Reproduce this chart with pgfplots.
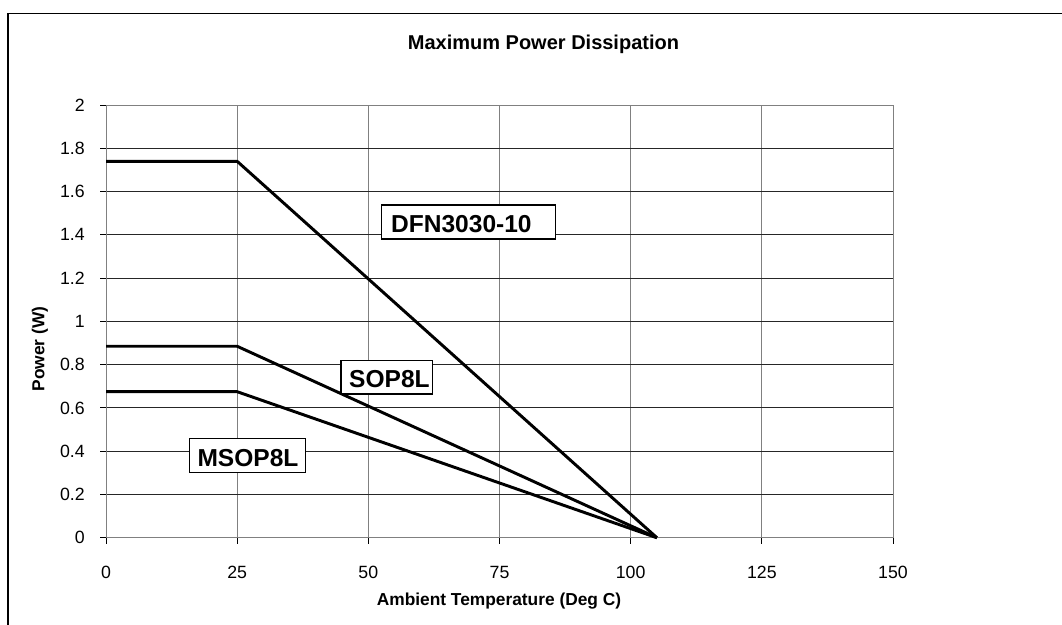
\documentclass[border=0pt]{standalone}
\usepackage{pgfplots}
\pgfplotsset{compat=1.18}
\usepackage{fontspec}
\setmainfont{Liberation Sans}

\begin{document}
\begin{tikzpicture}
\useasboundingbox (0,0) rectangle (796.5pt,468pt);
% outer chart frame (right and bottom edges fall outside the picture)
\draw[line width=1.1pt] (6pt,-5pt) -- (6pt,458pt) -- (805pt,458pt);

\begin{axis}[
    at={(79.5pt,64.7pt)}, anchor=south west,
    scale only axis,
    width=590.25pt, height=324.5pt,
    xmin=0, xmax=150, ymin=0, ymax=2,
    xtick={0,25,50,75,100,125,150},
    ytick={0,0.2,0.4,0.6,0.8,1,1.2,1.4,1.6,1.8,2},
    yticklabels={0,0.2,0.4,0.6,0.8,1,1.2,1.4,1.6,1.8,2},
    tick pos=left, tick align=outside,
    major tick length=4.5pt,
    every tick/.style={black, line width=0.75pt},
    /pgf/number format/assume math mode=true,
    xticklabel style={font=\fontsize{13.3}{16}\selectfont, anchor=base, inner sep=0pt, yshift=-25.7pt},
    yticklabel style={font=\fontsize{13.3}{16}\selectfont, anchor=east, inner sep=0pt, xshift=-11.25pt},
    xmajorgrids, ymajorgrids,
    x grid style={gray, line width=0.75pt},
    y grid style={black!85, line width=0.75pt},
    x axis line style={black, line width=0.75pt},
    y axis line style={gray, line width=0.75pt},
    clip=false,
]
\addplot[black, line width=2.2pt, line join=miter] coordinates {(0,1.74) (25,1.74) (105,0)};
\addplot[black, line width=2.2pt, line join=miter] coordinates {(0,0.885) (25,0.885) (105,0)};
\addplot[black, line width=2.2pt, line join=miter] coordinates {(0,0.675) (25,0.675) (105,0)};

% series labels in boxes
\filldraw[fill=white, draw=black, line width=1.1pt] (axis cs:52.53,1.3806) rectangle (axis cs:85.68,1.5378);
\node[anchor=base west, inner sep=0pt, font=\fontsize{18.4}{22}\selectfont\bfseries] at (axis cs:54.30,1.4116) {DFN3030-10};
\filldraw[fill=white, draw=black, line width=1.1pt] (axis cs:44.77,0.6642) rectangle (axis cs:62.24,0.8181);
\node[anchor=base west, inner sep=0pt, font=\fontsize{18.4}{22}\selectfont\bfseries] at (axis cs:46.30,0.6952) {SOP8L};
\filldraw[fill=white, draw=black, line width=1.1pt] (axis cs:15.87,0.3004) rectangle (axis cs:38.05,0.4594);
\node[anchor=base west, inner sep=0pt, font=\fontsize{18.4}{22}\selectfont\bfseries] at (axis cs:17.39,0.3314) {MSOP8L};
\end{axis}

\node[anchor=base, inner sep=0pt, font=\fontsize{15}{18}\selectfont\bfseries] at (407.6pt,431pt) {Maximum Power Dissipation};
\node[anchor=base, inner sep=0pt, font=\fontsize{13}{16}\selectfont\bfseries] at (374.25pt,14.25pt) {Ambient Temperature (Deg C)};
\node[rotate=90, inner sep=0pt, font=\fontsize{13}{16}\selectfont\bfseries] at (30pt,206.25pt) {Power (W)};
\end{tikzpicture}
\end{document}
